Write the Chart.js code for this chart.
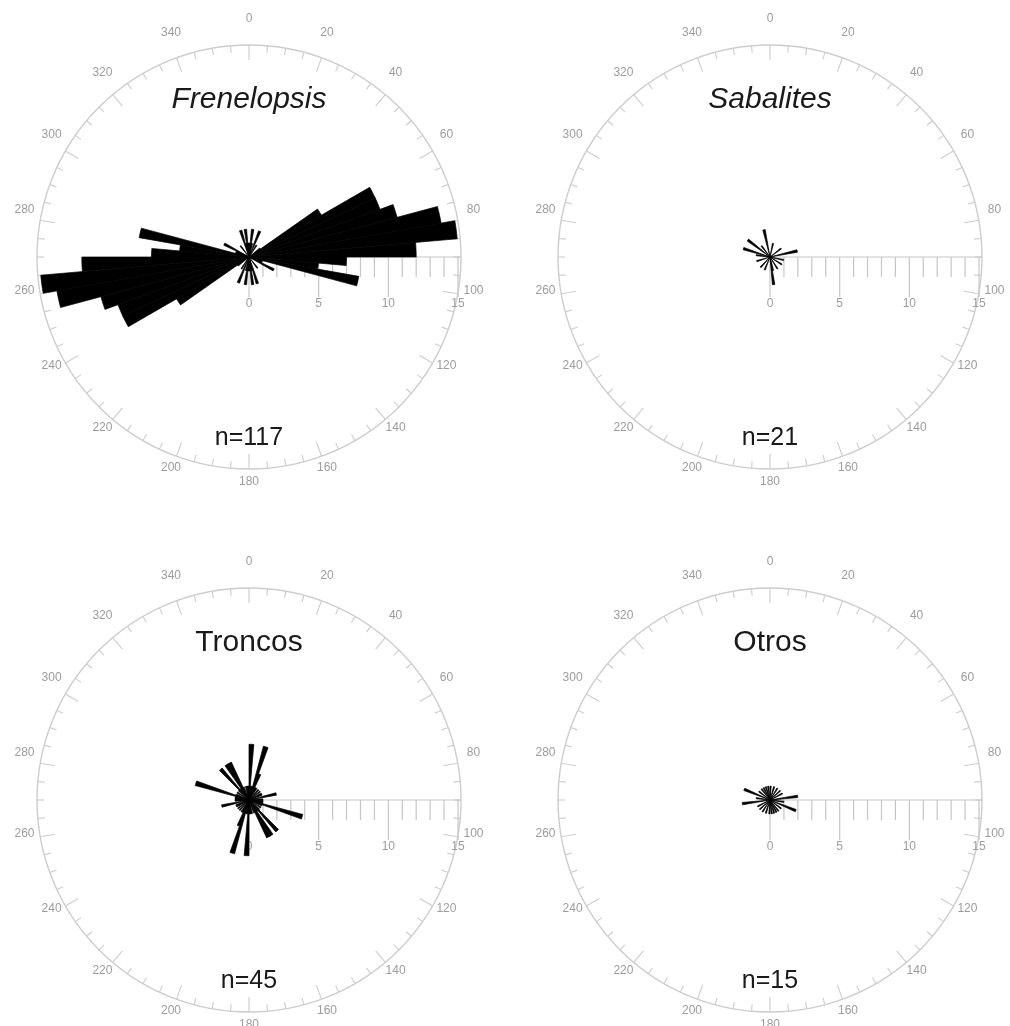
<!DOCTYPE html>
<html>
<head>
<meta charset="utf-8">
<script src="https://cdn.jsdelivr.net/npm/chart.js@4.4.1/dist/chart.umd.min.js"></script>
<style>
  html, body { margin: 0; padding: 0; background: #fff; }
  body { width: 1010px; height: 1026px; overflow: hidden; position: relative; }
  canvas { position: absolute; }
</style>
</head>
<body>
<canvas id="rose0" width="500" height="500" style="left:-1px;top:7px;width:500px;height:500px"></canvas>
<canvas id="rose1" width="500" height="500" style="left:520px;top:7px;width:500px;height:500px"></canvas>
<canvas id="rose2" width="500" height="500" style="left:-1px;top:550px;width:500px;height:500px"></canvas>
<canvas id="rose3" width="500" height="500" style="left:520px;top:550px;width:500px;height:500px"></canvas>
<script>
// Counts in 5° classes, clockwise from north.
// Axial sets list 0°–180° only; each class is drawn at θ and θ+180°.
const frenelopsisCounts = [
  1, 2, 1, 0, 2, 0, 1, 0, 0, 0, 1, 6,
  10, 10, 11, 14, 15, 12, 7, 5, 8, 1, 1, 2,
  0, 0, 0, 0, 1, 0, 0, 0, 2, 1, 2, 1
];
// Directional set: full circle, 0°–360°
const sabalitesCounts = [
  0, 0, 1, 0, 0, 0, 0, 0, 0, 0, 1, 0,
  0, 0, 0, 2, 0, 0, 0, 0, 1, 0, 0, 0,
  1, 0, 0, 0, 0, 1, 0, 0, 0, 1, 2, 0,
  0, 0, 0, 0, 1, 0, 0, 0, 1, 0, 0, 0,
  0, 0, 1, 0, 0, 0, 0, 1, 0, 2, 0, 0,
  0, 2, 0, 0, 1, 0, 0, 0, 0, 2, 0, 0
];
const troncosCounts = [
  4, 1, 1, 4, 2, 1, 1, 0, 1, 0, 1, 0,
  1, 1, 0, 2, 0, 1, 1, 1, 1, 4, 1, 0,
  1, 0, 1, 3, 1, 3, 3, 1, 0, 1, 1, 1
];
const otrosCounts = [
  1, 0, 0, 1, 0, 0, 1, 0, 0, 1, 0, 0,
  1, 0, 0, 0, 2, 0, 0, 1, 0, 0, 2, 0,
  0, 1, 0, 0, 1, 0, 1, 0, 1, 0, 1, 0
];

const panelCounts = [frenelopsisCounts, sabalitesCounts, troncosCounts, otrosCounts];
const panelAxial = [true, false, true, true];
const panelTitles = ['Frenelopsis', 'Sabalites', 'Troncos', 'Otros'];
const titleItalic = [true, true, false, false];
const sampleSizes = ['n=117', 'n=21', 'n=45', 'n=15'];
const angleLabels = [0, 20, 40, 60, 80, 100, 120, 140, 160, 180, 200, 220, 240, 260, 280, 300, 320, 340];
const scaleLabels = [0, 5, 10, 15];
const scaleMax = 15;

const FONT = '"Liberation Sans", Arial, Helvetica, sans-serif';
const CLASS_WIDTH = 5;

// Direction classes for the full circle
const classLabels = [];
for (let a = 0; a < 360; a += CLASS_WIDTH) classLabels.push(a + '–' + (a + CLASS_WIDTH) + '°');

// Compass circle, degree labels, count scale and text of each rose
const roseFrame = {
  id: 'roseFrame',
  beforeDatasetsDraw(chart) {
    const s = chart.scales.r;
    const ctx = chart.ctx;
    const cx = s.xCenter, cy = s.yCenter;
    const R = s.getDistanceFromCenterForValue(scaleMax) + 3;
    ctx.save();
    ctx.strokeStyle = '#cdcdcd';
    ctx.lineWidth = 1.4;
    ctx.beginPath();
    ctx.arc(cx, cy, R, 0, Math.PI * 2);
    ctx.stroke();
    ctx.lineWidth = 1.1;
    for (let a = 0; a < 360; a += 5) {
      const len = a % 20 === 0 ? 15 : 7;
      const t = a * Math.PI / 180;
      ctx.beginPath();
      ctx.moveTo(cx + R * Math.sin(t), cy - R * Math.cos(t));
      ctx.lineTo(cx + (R - len) * Math.sin(t), cy - (R - len) * Math.cos(t));
      ctx.stroke();
    }
    ctx.fillStyle = '#9c9c9c';
    ctx.font = '12px ' + FONT;
    ctx.textAlign = 'center';
    ctx.textBaseline = 'middle';
    angleLabels.forEach(a => {
      const t = a * Math.PI / 180;
      ctx.fillText(String(a), cx + (R + 16) * Math.sin(t), cy - (R + 19.7) * Math.cos(t) - 6.7);
    });

    // count scale along the east radius
    ctx.strokeStyle = '#c6c6c6';
    ctx.lineWidth = 1.2;
    ctx.beginPath();
    ctx.moveTo(cx, cy);
    ctx.lineTo(cx + R, cy);
    ctx.stroke();
    for (let v = 0; v <= scaleMax; v++) {
      const x = cx + s.getDistanceFromCenterForValue(v);
      const len = v % 5 === 0 ? 40 : 20;
      ctx.beginPath();
      ctx.moveTo(x, cy);
      ctx.lineTo(x, cy + len);
      ctx.stroke();
    }
    scaleLabels.forEach(v => {
      ctx.fillText(String(v), cx + s.getDistanceFromCenterForValue(v), cy + 47);
    });
    ctx.restore();
  },
  afterDraw(chart, args, opts) {
    const s = chart.scales.r;
    const ctx = chart.ctx;
    const cx = s.xCenter, cy = s.yCenter;
    ctx.save();
    ctx.fillStyle = '#1a1a1a';
    ctx.textAlign = 'center';
    ctx.textBaseline = 'alphabetic';
    ctx.font = (opts.italic ? 'italic ' : '') + '30px ' + FONT;
    ctx.fillText(opts.title, cx, cy - 149);
    ctx.font = '25px ' + FONT;
    ctx.fillText(opts.n, cx, cy + 188);
    ctx.restore();
  }
};

panelCounts.forEach((counts, i) => {
  const values = panelAxial[i] ? counts.concat(counts) : counts;
  new Chart(document.getElementById('rose' + i), {
    type: 'polarArea',
    data: {
      labels: classLabels,
      datasets: [{
        data: values,
        backgroundColor: '#000',
        borderColor: '#000',
        borderWidth: c => (c.raw > 0 ? 0.7 : 0)
      }]
    },
    options: {
      responsive: false,
      animation: false,
      layout: { padding: 41 },
      plugins: {
        legend: { display: false },
        tooltip: { enabled: false },
        roseFrame: { title: panelTitles[i], italic: titleItalic[i], n: sampleSizes[i] }
      },
      scales: {
        r: {
          min: 0,
          max: scaleMax,
          startAngle: 0,
          ticks: { display: false },
          grid: { display: false },
          angleLines: { display: false },
          pointLabels: { display: false }
        }
      }
    },
    plugins: [roseFrame]
  });
});
</script>
</body>
</html>
